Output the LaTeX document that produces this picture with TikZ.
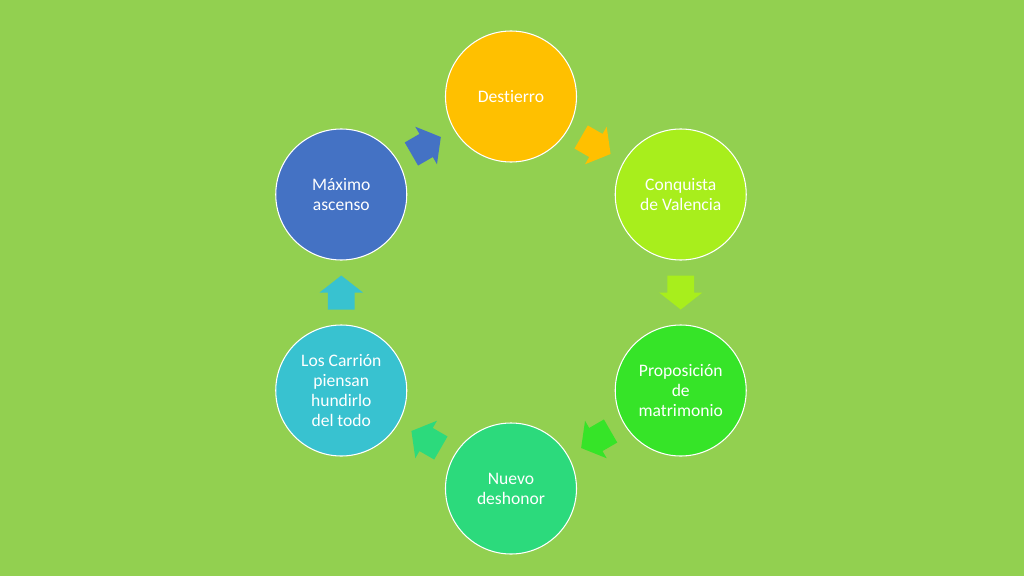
\documentclass[tikz,border=0pt]{standalone}
\usepackage{fontspec}
\setmainfont{Carlito}[Ligatures=NoCommon]
\usepackage{tikz}
\usetikzlibrary{calc}

\definecolor{fondo}{HTML}{92D050}
\definecolor{cDestierro}{HTML}{FFC000}
\definecolor{cConquista}{HTML}{A8EE1C}
\definecolor{cPropuesta}{HTML}{36E428}
\definecolor{cDeshonor}{HTML}{2CDA7C}
\definecolor{cCarrion}{HTML}{38C2D0}
\definecolor{cAscenso}{HTML}{4472C4}

\begin{document}
\begin{tikzpicture}[font=\fontsize{15}{17.2}\selectfont,
    etapa/.style={circle, draw=white, line width=0.9pt, minimum size=3.93cm,
      inner sep=0pt, align=center, text=white},
    flecha/.pic={
      % block arrow pointing along +x, centred on the origin
      \fill (-0.51,-0.4) -- (0,-0.4) -- (0,-0.65) -- (0.51,0)
            -- (0,0.65) -- (0,0.4) -- (-0.51,0.4) -- cycle;
    }]

      % Internal geometry
      \def\R{5.88}       % radius of the ring of circles

      % Background (fixes the page size)
      \fill[fondo] (-15.33,-8.505) rectangle (15.39,8.775);

      % The six stages, clockwise from the top
      \node[etapa, fill=cDestierro] (dest) at (90:\R)  {Destierro};
      \node[etapa, fill=cConquista] (conq) at (30:\R)  {Conquista\\de Valencia};
      \node[etapa, fill=cPropuesta] (prop) at (-30:\R) {Proposición\\de\\matrimonio};
      \node[etapa, fill=cDeshonor]  (desh) at (-90:\R) {Nuevo\\deshonor};
      \node[etapa, fill=cCarrion]   (carr) at (210:\R) {Los Carrión\\piensan\\hundirlo\\del todo};
      \node[etapa, fill=cAscenso]   (maxi) at (150:\R) {Máximo\\ascenso};

      % Block arrows half-way between neighbours
      \pic[rotate=-30, fill=cDestierro]  at ($(dest)!0.5!(conq)$) {flecha};
      \pic[rotate=-90, fill=cConquista]  at ($(conq)!0.5!(prop)$) {flecha};
      \pic[rotate=-150, fill=cPropuesta] at ($(prop)!0.5!(desh)$) {flecha};
      \pic[rotate=150, fill=cDeshonor]   at ($(desh)!0.5!(carr)$) {flecha};
      \pic[rotate=90, fill=cCarrion]     at ($(carr)!0.5!(maxi)$) {flecha};
      \pic[rotate=30, fill=cAscenso]     at ($(maxi)!0.5!(dest)$) {flecha};

    \end{tikzpicture}
\end{document}
